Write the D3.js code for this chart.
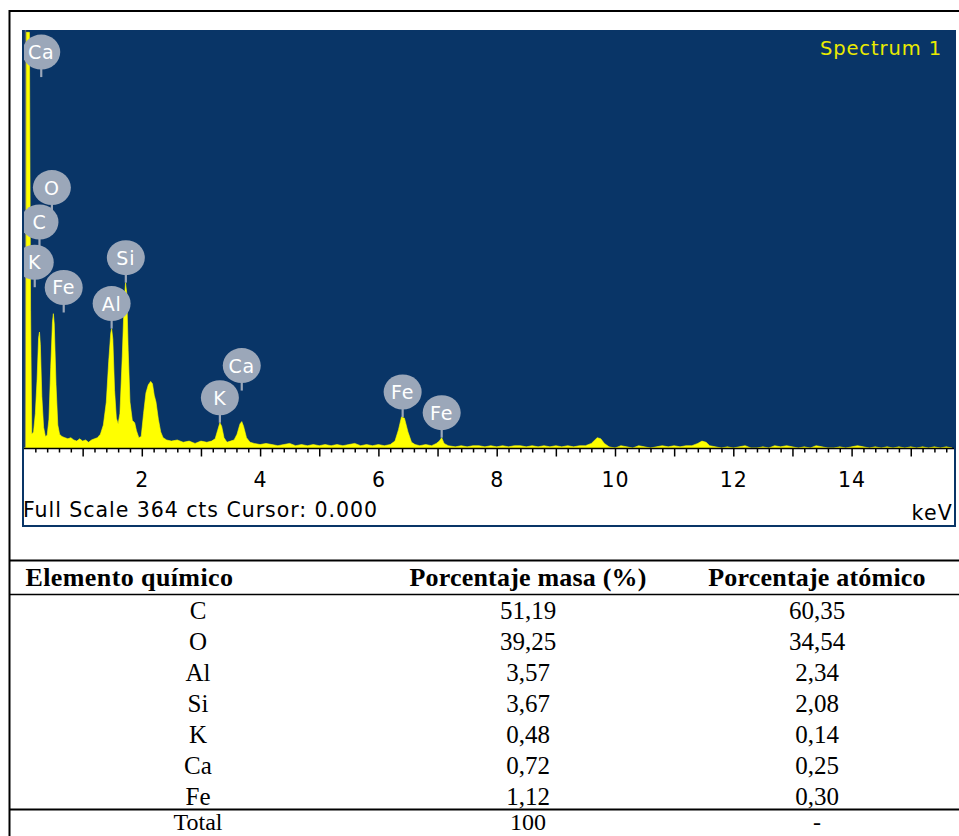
<!DOCTYPE html>
<html>
<head>
<meta charset="utf-8">
<script src="https://cdn.jsdelivr.net/npm/d3@7"></script>
<style>
  html, body { margin: 0; padding: 0; background: #ffffff; }
  svg { display: block; }
</style>
</head>
<body>
<svg id="chart" width="959" height="836"></svg>
<script>
// EDS spectrum: [energy (keV), counts]
const spectrum = [
  [0.00,0],[0.04,0],[0.05,362],[0.10,362],[0.12,120],[0.14,12],[0.17,14],[0.20,30],
  [0.23,60],[0.255,96],[0.27,101],[0.285,90],[0.31,45],[0.34,18],[0.37,10],[0.40,11],
  [0.43,25],[0.46,70],[0.49,110],[0.505,117],[0.52,108],[0.55,55],[0.58,20],[0.61,12],
  [0.65,10],[0.70,9],[0.75,8],[0.80,9],[0.85,7],[0.90,6],[0.95,8],[1.00,6],[1.05,7],
  [1.10,5],[1.15,7],[1.20,8],[1.25,9],[1.30,12],[1.35,20],[1.40,40],[1.44,75],
  [1.475,100],[1.49,104],[1.51,95],[1.54,50],[1.57,26],[1.60,21],[1.63,30],[1.67,80],
  [1.70,125],[1.725,144],[1.745,135],[1.77,85],[1.80,40],[1.84,24],[1.88,22],[1.91,15],
  [1.95,9],[1.99,10],[2.03,30],[2.07,48],[2.11,55],[2.15,58],[2.18,56],[2.21,46],
  [2.24,40],[2.28,25],[2.32,14],[2.36,9],[2.42,7],[2.50,6],[2.60,7],[2.70,5],[2.80,6],
  [2.90,4],[3.00,6],[3.10,5],[3.18,6],[3.24,8],[3.28,15],[3.32,22],[3.35,19],[3.39,9],
  [3.44,5],[3.50,6],[3.56,7],[3.61,12],[3.66,21],[3.69,23],[3.72,19],[3.77,9],[3.83,5],
  [3.90,4],[4.0,3],[4.1,4],[4.2,3],[4.3,2],[4.4,3],[4.5,4],[4.6,2],[4.7,3],[4.8,2],
  [4.9,3],[5.0,2],[5.1,3],[5.2,2],[5.3,3],[5.4,2],[5.5,3],[5.6,4],[5.7,2],[5.8,3],
  [5.9,2],[6.0,3],[6.1,2],[6.2,3],[6.28,6],[6.34,16],[6.39,27],[6.44,26],[6.50,14],
  [6.56,5],[6.62,3],[6.7,2],[6.8,3],[6.9,2],[6.98,4],[7.03,6],[7.07,9],[7.11,4],
  [7.18,2],[7.3,1],[7.4,2],[7.5,1],[7.6,2],[7.7,2],[7.8,1],[7.9,2],[8.0,1],[8.1,2],
  [8.2,1],[8.3,2],[8.4,2],[8.5,1],[8.6,2],[8.7,1],[8.8,2],[8.9,1],[9.0,2],[9.1,1],
  [9.2,2],[9.3,1],[9.4,2],[9.5,2],[9.6,4],[9.7,9],[9.76,8],[9.82,4],[9.9,1],[10.0,0],
  [10.1,2],[10.2,1],[10.3,0],[10.4,2],[10.5,1],[10.6,0],[10.7,1],[10.8,2],[10.9,1],
  [11.0,2],[11.1,1],[11.2,2],[11.3,2],[11.4,4],[11.47,6],[11.54,5],[11.6,2],[11.7,1],
  [11.8,0],[11.9,1],[12.0,0],[12.1,1],[12.2,2],[12.3,0],[12.4,0],[12.5,1],[12.6,0],
  [12.7,2],[12.8,1],[12.9,2],[13.0,1],[13.1,0],[13.2,1],[13.3,0],[13.4,2],[13.5,1],
  [13.6,0],[13.7,0],[13.8,1],[13.9,0],[14.0,1],[14.1,2],[14.2,1],[14.3,0],[14.4,1],
  [14.5,0],[14.6,1],[14.7,0],[14.8,1],[14.9,0],[15.0,1],[15.1,0],[15.2,1],[15.3,0],
  [15.4,1],[15.5,0],[15.6,1],[15.7,0]
];

// Element line markers: element, line energy (keV), count level where the marker stem ends
const markerElements = ["Ca","O","C","K","Fe","Si","Al","Ca","K","Fe","Fe"];
const markerKeV      = [0.30, 0.48, 0.27, 0.19, 0.68, 1.73, 1.49, 3.69, 3.32, 6.41, 7.07];
const markerCounts   = [323, 205, 175, 140, 118, 144, 104, 50, 22, 27, 9];

const fullScaleCounts = 364;
const maxKeV = 15.765;
const cursorKeV = 0;
const labelledTicks = [2, 4, 6, 8, 10, 12, 14];

// Quantification table
const tableHeader = ["Elemento químico", "Porcentaje masa (%)", "Porcentaje atómico"];
const elements   = ["C", "O", "Al", "Si", "K", "Ca", "Fe"];
const massPct    = ["51,19", "39,25", "3,57", "3,67", "0,48", "0,72", "1,12"];
const atomicPct  = ["60,35", "34,54", "2,34", "2,08", "0,14", "0,25", "0,30"];
const totalRow   = ["Total", "100", "-"];

const svg = d3.select("#chart");
const BLUE = "#093567", YELLOW = "#ffff00", BUBBLE = "#9ba7b9";
const UI_FONT = "'DejaVu Sans', Verdana, sans-serif";
const DOC_FONT = "'Liberation Serif', 'Times New Roman', serif";

// outer document frame
svg.append("path")
  .attr("d", "M9.5,836 V11 H959")
  .attr("fill", "none").attr("stroke", "#000").attr("stroke-width", 2);

// spectrum window
const panel = { x0: 22, y0: 30, x1: 956, y1: 527 };
const plotTop = 30, plotBottom = 448;

const x = d3.scaleLinear().domain([0, maxKeV]).range([23.5, panel.x1]);
const y = d3.scaleLinear().domain([0, fullScaleCounts]).range([plotBottom, plotTop]);

svg.append("rect")
  .attr("x", panel.x0 + 1).attr("y", panel.y0 + 1)
  .attr("width", panel.x1 - panel.x0 - 2).attr("height", panel.y1 - panel.y0 - 2)
  .attr("fill", "#ffffff").attr("stroke", BLUE).attr("stroke-width", 2);

svg.append("rect")
  .attr("x", panel.x0).attr("y", plotTop)
  .attr("width", panel.x1 - panel.x0).attr("height", plotBottom - plotTop)
  .attr("fill", BLUE);

svg.append("defs").append("clipPath").attr("id", "plotClip")
  .append("rect")
  .attr("x", panel.x0 + 2).attr("y", plotTop)
  .attr("width", panel.x1 - panel.x0 - 4).attr("height", plotBottom - plotTop);

const plot = svg.append("g").attr("clip-path", "url(#plotClip)");

// cursor line
plot.append("line")
  .attr("x1", x(cursorKeV) + 2).attr("x2", x(cursorKeV) + 2)
  .attr("y1", plotTop).attr("y2", plotBottom)
  .attr("stroke", "#5b6574").attr("stroke-width", 1.5);

// spectrum fill
const area = d3.area()
  .x(d => x(d[0]))
  .y0(y(0))
  .y1(d => y(Math.min(d[1], fullScaleCounts)))
  .curve(d3.curveLinear);

plot.append("path")
  .datum(spectrum)
  .attr("d", area)
  .attr("fill", YELLOW)
  .attr("stroke", YELLOW).attr("stroke-width", 0.6);

// element markers
const markers = markerElements.map((el, i) => ({ el, keV: markerKeV[i], counts: markerCounts[i] }));
const R = 17.5, STEM = 25;
const mg = plot.selectAll("g.marker").data(markers).join("g").attr("class", "marker");
mg.append("line")
  .attr("x1", d => x(d.keV)).attr("x2", d => x(d.keV))
  .attr("y1", d => y(d.counts) - STEM).attr("y2", d => y(d.counts))
  .attr("stroke", BUBBLE).attr("stroke-width", 2.2);
mg.append("ellipse")
  .attr("cx", d => x(d.keV)).attr("cy", d => y(d.counts) - STEM)
  .attr("rx", R + 1.5).attr("ry", R)
  .attr("fill", BUBBLE);
mg.append("text")
  .attr("x", d => x(d.keV)).attr("y", d => y(d.counts) - STEM + 7)
  .attr("text-anchor", "middle")
  .attr("font-family", UI_FONT).attr("font-size", 19)
  .attr("letter-spacing", 0.8)
  .attr("fill", "#ffffff")
  .text(d => d.el);

// window title
svg.append("text")
  .attr("x", 942).attr("y", 55)
  .attr("text-anchor", "end")
  .attr("font-family", UI_FONT).attr("font-size", 19.5)
  .attr("letter-spacing", 0.9)
  .attr("fill", "#eaea00")
  .text("Spectrum 1");

// energy axis
const minorTicks = d3.range(0, 79).map(i => +(i * 0.2).toFixed(1))
  .filter(v => v > 0 && v < maxKeV && Math.abs(v - Math.round(v)) > 1e-6);
const majorTicks = d3.range(1, 16);

const axisG = svg.append("g").attr("transform", `translate(0,${plotBottom + 0.5})`);
axisG.call(d3.axisBottom(x).tickValues(minorTicks).tickSize(4).tickSizeOuter(0).tickFormat(""))
  .call(g => g.select(".domain").remove());
const majorAxis = svg.append("g").attr("transform", `translate(0,${plotBottom + 0.5})`)
  .call(d3.axisBottom(x).tickValues(majorTicks).tickSize(8).tickSizeOuter(0).tickPadding(16)
    .tickFormat(v => labelledTicks.includes(v) ? String(v) : ""));
majorAxis.select(".domain").attr("d", `M${panel.x0 + 2},0H${panel.x1 - 2}`).attr("stroke-width", 1.5);
svg.selectAll(".tick line").attr("stroke", "#000").attr("stroke-width", 1.5);
majorAxis.selectAll(".tick text")
  .attr("font-family", UI_FONT).attr("font-size", 20.5).attr("letter-spacing", 1)
  .attr("fill", "#000");

svg.append("text")
  .attr("x", 23).attr("y", 517)
  .attr("font-family", UI_FONT).attr("font-size", 20.5).attr("letter-spacing", 0.95)
  .attr("fill", "#000")
  .text(`Full Scale ${fullScaleCounts} cts Cursor: ${cursorKeV.toFixed(3)}`);
svg.append("text")
  .attr("x", 953).attr("y", 520).attr("text-anchor", "end")
  .attr("font-family", UI_FONT).attr("font-size", 20.5).attr("letter-spacing", 1.2)
  .attr("fill", "#000")
  .text("keV");

// quantification table
const colCenter = [198, 528, 817];
const rule = (yy, w) => svg.append("line")
  .attr("x1", 9).attr("x2", 959).attr("y1", yy).attr("y2", yy)
  .attr("stroke", "#000").attr("stroke-width", w);
rule(560.5, 2);
rule(594.5, 1.5);
rule(809.5, 2);

svg.append("text").attr("x", 25.5).attr("y", 586)
  .attr("font-family", DOC_FONT).attr("font-weight", "bold").attr("font-size", 26)
  .attr("letter-spacing", 0.4)
  .text(tableHeader[0]);
[1, 2].forEach(c => svg.append("text")
  .attr("x", colCenter[c]).attr("y", 586).attr("text-anchor", "middle")
  .attr("font-family", DOC_FONT).attr("font-weight", "bold").attr("font-size", 26)
  .attr("letter-spacing", 0.2)
  .text(tableHeader[c]));

const rows = elements.map((e, i) => [e, massPct[i], atomicPct[i]]);
const rowY = d3.scaleLinear().domain([0, 1]).range([619, 650]);
rows.forEach((r, i) => r.forEach((v, c) => svg.append("text")
  .attr("x", colCenter[c]).attr("y", rowY(i)).attr("text-anchor", "middle")
  .attr("font-family", DOC_FONT).attr("font-size", 25).text(v)));
totalRow.forEach((v, c) => svg.append("text")
  .attr("x", colCenter[c]).attr("y", 830).attr("text-anchor", "middle")
  .attr("font-family", DOC_FONT).attr("font-size", 24).text(v));
</script>
</body>
</html>
